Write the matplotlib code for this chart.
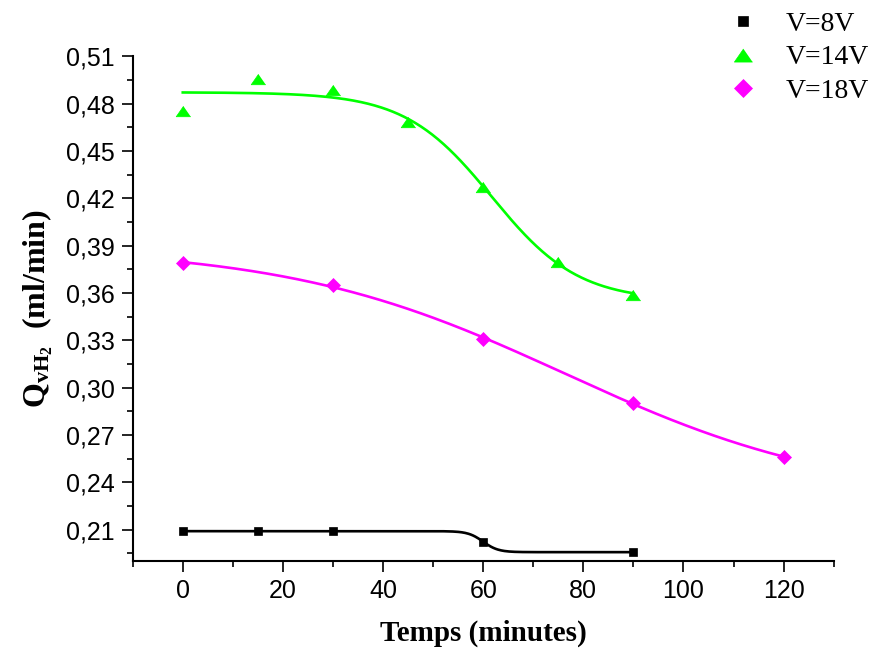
import numpy as np
import matplotlib
matplotlib.use("Agg")
import matplotlib.pyplot as plt
from matplotlib.ticker import MultipleLocator, FuncFormatter

plt.rcParams["mathtext.fontset"] = "custom"
plt.rcParams["mathtext.rm"] = "Liberation Serif"
plt.rcParams["mathtext.it"] = "Liberation Serif:italic"
plt.rcParams["mathtext.bf"] = "Liberation Serif:bold"

# Measured hydrogen flow rate vs. time for three applied voltages
t_8v = np.array([0, 15, 30, 60, 90])
q_8v = np.array([0.2090, 0.2090, 0.2090, 0.2023, 0.1957])

t_14v = np.array([0, 15, 30, 45, 60, 75, 90])
q_14v = np.array([0.4750, 0.4955, 0.4888, 0.4683, 0.4271, 0.3796, 0.3589])

t_18v = np.array([0, 30, 60, 90, 120])
q_18v = np.array([0.3790, 0.3648, 0.3306, 0.2902, 0.2560])

labels = ["V=8V", "V=14V", "V=18V"]
colors = ["#000000", "#00FF00", "#FF00FF"]

x_ticks = [0, 20, 40, 60, 80, 100, 120]


def boltzmann(x, a1, a2, x0, dx):
    return a2 + (a1 - a2) / (1.0 + np.exp((x - x0) / dx))


def fit_boltzmann(x, y, dx_min=1.5):
    """Least-squares Boltzmann fit: grid over (x0, dx), closed form for (a1, a2)."""
    x = np.asarray(x, float)
    y = np.asarray(y, float)
    x0s = np.linspace(x.min(), x.max() + 80, 701)
    dxs = np.geomspace(dx_min, 80, 400)
    X0, DX = np.meshgrid(x0s, dxs, indexing="ij")
    F = 1.0 / (1.0 + np.exp((x[None, None, :] - X0[..., None]) / DX[..., None]))
    G = 1.0 - F
    sFF = (F * F).sum(-1)
    sGG = (G * G).sum(-1)
    sFG = (F * G).sum(-1)
    sFy = (F * y).sum(-1)
    sGy = (G * y).sum(-1)
    det = sFF * sGG - sFG ** 2
    ok = det > 1e-9
    det = np.where(ok, det, 1.0)
    a1 = (sFy * sGG - sGy * sFG) / det
    a2 = (sGy * sFF - sFy * sFG) / det
    res = ((a1[..., None] * F + a2[..., None] * G - y) ** 2).sum(-1)
    res = np.where(ok, res, np.inf)
    i, j = np.unravel_index(np.argmin(res), res.shape)
    return a1[i, j], a2[i, j], X0[i, j], DX[i, j]


fig = plt.figure(figsize=(8.73, 6.54), dpi=100)
ax = fig.add_axes([0.152, 0.142, 0.803, 0.772])

tri = [(0, 0.72), (-1, -0.72), (1, -0.72)]
series = [
    (t_8v, q_8v, "s", 5.6),
    (t_14v, q_14v, tri, 10.5),
    (t_18v, q_18v, "D", 7.6),
]

for (t, q, mk, ms), lab, col in zip(series, labels, colors):
    p = fit_boltzmann(t, q)
    xs = np.linspace(t.min(), t.max(), 400)
    ax.plot(xs, boltzmann(xs, *p), color=col, lw=1.9, zorder=2)
    ax.plot(t, q, ls="none", marker=mk, ms=ms, color=col, mec=col, mew=0.5,
            label=lab, zorder=3)

ax.set_xlim(-10, 130)
ax.set_ylim(0.19, 0.51)
ax.set_xticks(x_ticks)
ax.xaxis.set_minor_locator(MultipleLocator(10))
ax.set_yticks(np.round(np.arange(0.21, 0.5101, 0.03), 2))
ax.yaxis.set_minor_locator(MultipleLocator(0.015))
ax.yaxis.set_major_formatter(FuncFormatter(lambda v, _: f"{v:.2f}".replace(".", ",")))

for s in ("top", "right"):
    ax.spines[s].set_visible(False)
for s in ("left", "bottom"):
    ax.spines[s].set_linewidth(1.5)

ax.tick_params(which="major", direction="out", length=8, width=1.2,
               labelsize=18, pad=5)
ax.tick_params(which="minor", direction="out", length=4.5, width=1.2)
for lbl in ax.get_xticklabels() + ax.get_yticklabels():
    lbl.set_family("Liberation Sans")

ax.set_xlabel("Temps (minutes)", family="Liberation Serif", weight="bold",
              fontsize=21, labelpad=12)
ylab = ax.set_ylabel(r"$\mathbf{Q}_{\mathbf{vH}_{\mathbf{2}}}$  (ml/min)",
                     family="Liberation Serif", weight="bold", fontsize=23,
                     labelpad=8)
ylab.set_math_fontfamily("custom")

ax.legend(loc="upper left", bbox_to_anchor=(0.835, 0.982),
          bbox_transform=fig.transFigure, frameon=False, numpoints=1,
          handlelength=1.0, handletextpad=1.05, labelspacing=0.28,
          borderpad=0, borderaxespad=0, markerscale=1.25,
          prop={"family": "Liberation Serif", "size": 20})

fig.savefig("out.png", dpi=100)
